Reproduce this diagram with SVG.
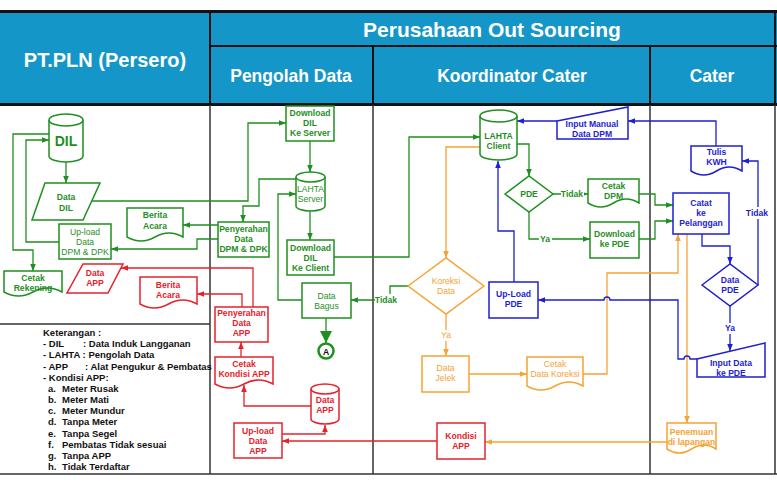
<svg xmlns="http://www.w3.org/2000/svg" width="777" height="486" viewBox="0 0 777 486">
<defs>
<style>
text{font-family:"Liberation Sans",Arial,sans-serif}
.t{font-size:8.6px;font-weight:bold;text-anchor:middle}
.n{font-weight:normal}
.h{fill:#fff;font-weight:bold;text-anchor:middle}
.lg{font-size:9.5px;font-weight:bold;fill:#111}
.gs{stroke:#1f8f1f;fill:#fff;stroke-width:1.5}
.bs{stroke:#1e1ed2;fill:#fff;stroke-width:1.5}
.os{stroke:#f5a332;fill:#fff;stroke-width:1.5}
.rs{stroke:#e5222b;fill:#fff;stroke-width:1.5}
.gt{fill:#1f8f1f}
.bt{fill:#1e1ed2}
.ot{fill:#f5a332}
.rt{fill:#e5222b}
.c{fill:none;stroke-width:1.3}
.cg{stroke:#1f8f1f;marker-end:url(#ag)}
.cb{stroke:#1e1ed2;marker-end:url(#ab)}
.co{stroke:#f5a332;marker-end:url(#ao)}
.cr{stroke:#e5222b;marker-end:url(#ar)}
.col{stroke:#333;stroke-width:1.5}
</style>
<marker id="ag" viewBox="0 0 10 10" refX="10" refY="5" markerWidth="7" markerHeight="7" markerUnits="userSpaceOnUse" orient="auto"><path d="M0,1 L10,5 L0,9 z" fill="#1f8f1f"/></marker>
<marker id="ab" viewBox="0 0 10 10" refX="10" refY="5" markerWidth="7" markerHeight="7" markerUnits="userSpaceOnUse" orient="auto"><path d="M0,1 L10,5 L0,9 z" fill="#1e1ed2"/></marker>
<marker id="ao" viewBox="0 0 10 10" refX="10" refY="5" markerWidth="7" markerHeight="7" markerUnits="userSpaceOnUse" orient="auto"><path d="M0,1 L10,5 L0,9 z" fill="#f5a332"/></marker>
<marker id="ar" viewBox="0 0 10 10" refX="10" refY="5" markerWidth="7" markerHeight="7" markerUnits="userSpaceOnUse" orient="auto"><path d="M0,1 L10,5 L0,9 z" fill="#e5222b"/></marker>
<marker id="agb" viewBox="0 0 10 10" refX="10" refY="5" markerWidth="12" markerHeight="12" markerUnits="userSpaceOnUse" orient="auto"><path d="M0,0 L10,5 L0,10 z" fill="#1f8f1f"/></marker>
</defs>
<rect width="777" height="486" fill="#fff"/>

<g id="header">
<rect x="0" y="12" width="777" height="93" fill="#1596c8"/>
<rect x="0" y="10" width="777" height="3" fill="#111"/>
<rect x="0" y="103" width="777" height="3" fill="#111"/>
<line x1="210" y1="12" x2="210" y2="105" stroke="#111" stroke-width="2"/>
<line x1="210" y1="46" x2="777" y2="46" stroke="#111" stroke-width="2"/>
<line x1="373" y1="46" x2="373" y2="105" stroke="#111" stroke-width="2"/>
<line x1="650" y1="46" x2="650" y2="105" stroke="#111" stroke-width="2"/>
<line x1="775" y1="12" x2="775" y2="105" stroke="#111" stroke-width="2"/>
<text class="h" x="105" y="67" font-size="20">PT.PLN (Persero)</text>
<text class="h" x="492" y="37" font-size="21">Perusahaan Out Sourcing</text>
<text class="h" x="291" y="82" font-size="17.5">Pengolah Data</text>
<text class="h" x="512" y="82" font-size="17.5">Koordinator Cater</text>
<text class="h" x="712" y="82" font-size="17.5">Cater</text>
</g>

<g id="lanes">
<line class="col" x1="210" y1="105" x2="210" y2="474"/>
<line class="col" x1="373" y1="105" x2="373" y2="474"/>
<line class="col" x1="650" y1="105" x2="650" y2="474"/>
<line class="col" x1="775" y1="105" x2="775" y2="474"/>
<line class="col" x1="0" y1="474" x2="777" y2="474"/>
<line class="col" x1="0" y1="324" x2="210" y2="324"/>
</g>

<g id="legend">
<text class="lg" x="43" y="336">Keterangan :</text>
<text class="lg" x="43" y="347.2">- DIL</text><text class="lg" x="83" y="347.2">: Data Induk Langganan</text>
<text class="lg" x="43" y="358.3">- LAHTA : Pengolah Data</text>
<text class="lg" x="43" y="369.5">- APP</text><text class="lg" x="85" y="369.5">: Alat Pengukur &amp; Pembatas</text>
<text class="lg" x="43" y="380.7">- Kondisi APP:</text>
<text class="lg" x="48" y="391.9">a.</text><text class="lg" x="62" y="391.9">Meter Rusak</text>
<text class="lg" x="48" y="403">b.</text><text class="lg" x="62" y="403">Meter Mati</text>
<text class="lg" x="48" y="414.2">c.</text><text class="lg" x="62" y="414.2">Meter Mundur</text>
<text class="lg" x="48" y="425.4">d.</text><text class="lg" x="62" y="425.4">Tanpa Meter</text>
<text class="lg" x="48" y="436.5">e.</text><text class="lg" x="62" y="436.5">Tanpa Segel</text>
<text class="lg" x="48" y="447.7">f.</text><text class="lg" x="62" y="447.7">Pembatas Tidak sesuai</text>
<text class="lg" x="48" y="458.9">g.</text><text class="lg" x="62" y="458.9">Tanpa APP</text>
<text class="lg" x="48" y="470">h.</text><text class="lg" x="62" y="470">Tidak Terdaftar</text>
</g>

<g id="connectors">
<path class="c cg" d="M66,162 V183"/>
<path class="c cg" d="M92,201 H248 V123 H286"/>
<path class="c cg" d="M49,134 H13 V250 H33 V271"/>
<path class="c cg" d="M59,242 H26 V140 H49"/>
<path class="c cg" d="M218,225 H183"/>
<path class="c cg" d="M218,239 H197 V249 H111"/>
<path class="c cg" d="M296,179 H259 V206 H243 V222"/>
<path class="c cg" d="M310,141 V172"/>
<path class="c cg" d="M310,211 V240"/>
<path class="c cg" d="M334,257 H409 V137 H480"/>
<path class="c cg" d="M302,300 H278 V194 H296"/>
<path class="c" d="M326,318 V343" stroke="#1f8f1f" stroke-width="3" marker-end="url(#agb)"/>
<path class="c cg" d="M408,286 H390 V300 H351"/>
<path class="c cg" d="M517,144 H529 V176"/>
<path class="c cg" d="M553,194 H588"/>
<path class="c cg" d="M529,212 V239 H590"/>
<path class="c cg" d="M639,194 H655 V205 H673"/>
<path class="c cg" d="M639,239 H655 V221 H673"/>

<path class="c cb" d="M716,146 V121 H628"/>
<path class="c cb" d="M557,121 H517"/>
<path class="c cb" d="M514,282 V231 H498 V161"/>
<path class="c cb" d="M702,234 V246 H730 V264"/>
<path class="c cb" d="M758,285 V161 H742"/>
<path class="c cb" d="M730,306 V351"/>

<path class="c co" d="M480,147 H446 V258"/>
<path class="c co" d="M446,314 V356"/>
<path class="c co" d="M469,374 H527"/>
<path class="c co" d="M583,374 H607 V273 H678 V234"/>
<path class="c co" d="M687,234 V423"/>
<path class="c co" d="M667,442 H485"/>

<path class="c cb" d="M697,359 H690 A3,3 0 0 0 684,359 H678 V300 H610 A3,3 0 0 0 604,300 H538"/>

<path class="c cr" d="M437,441 H282"/>
<path class="c cr" d="M282,434 H325 V425"/>
<path class="c cr" d="M311,406 H244 V385"/>
<path class="c cr" d="M241,357 V342"/>
<path class="c cr" d="M242,307 V294 H197"/>
<path class="c cr" d="M253,307 V268 H121"/>

<rect x="375" y="294" width="23" height="11" fill="#fff"/>
<text class="t gt" x="386" y="303">Tidak</text>
<rect x="561" y="189" width="23" height="11" fill="#fff"/>
<text class="t gt" x="572" y="197">Tidak</text>
<rect x="539" y="234" width="13" height="11" fill="#fff"/>
<text class="t gt" x="545" y="242">Ya</text>
<rect x="440" y="330" width="13" height="11" fill="#fff"/>
<text class="t ot n" x="446" y="338">Ya</text>
<rect x="746" y="207" width="23" height="12" fill="#fff"/>
<text class="t bt" x="757" y="216">Tidak</text>
<rect x="724" y="323" width="13" height="11" fill="#fff"/>
<text class="t bt" x="730" y="331">Ya</text>
</g>

<g id="dil">
<path class="gs" d="M49,120 V156 A17,6 0 0 0 83,156 V120 A17,6 0 0 0 49,120 Z"/>
<path class="gs" fill="none" d="M49,120 A17,6 0 0 0 83,120"/>
<text x="66" y="146" text-anchor="middle" font-size="14" font-weight="bold" class="gt">DIL</text>
</g>
<g id="data-dil">
<polygon class="gs" points="45,183 100,183 83,220 32,220"/>
<text class="t gt" x="66" y="200">Data</text><text class="t gt" x="66" y="211">DIL</text>
</g>
<g id="upload-dpm">
<rect class="gs" x="59" y="224" width="52" height="35"/>
<text class="t gt n" x="85" y="235">Up-load</text><text class="t gt n" x="85" y="245">Data</text><text class="t gt n" x="85" y="255">DPM &amp; DPK</text>
</g>
<g id="berita-acara-1">
<path class="gs" d="M127,208 H183 V237 Q169,229 155,237 T127,237 Z"/>
<text class="t gt" x="155" y="218">Berita</text><text class="t gt" x="155" y="229">Acara</text>
</g>
<g id="cetak-rekening">
<path class="gs" d="M4,271 H62 V292 Q47.5,284 33,292 T4,292 Z"/>
<text class="t gt" x="33" y="281">Cetak</text><text class="t gt" x="33" y="291">Rekening</text>
</g>
<g id="data-app-1">
<polygon class="rs" points="83,264 123,264 108,293 67,293"/>
<text class="t rt" x="95" y="276">Data</text><text class="t rt" x="95" y="286">APP</text>
</g>
<g id="berita-acara-2">
<path class="rs" d="M140,277 H197 V304 Q182.75,296 168.5,304 T140,304 Z"/>
<text class="t rt" x="168" y="288">Berita</text><text class="t rt" x="168" y="298">Acara</text>
</g>

<g id="download-server">
<rect class="gs" x="286" y="106" width="48" height="35"/>
<text class="t gt" x="310" y="116">Download</text><text class="t gt" x="310" y="126">DIL</text><text class="t gt" x="310" y="136">Ke Server</text>
</g>
<g id="lahta-server">
<path class="gs" d="M296,177 V206 A14.5,5 0 0 0 325,206 V177 A14.5,5 0 0 0 296,177 Z"/>
<path class="gs" fill="none" d="M296,177 A14.5,5 0 0 0 325,177"/>
<text class="t gt n" x="310.5" y="192">LAHTA</text><text class="t gt n" x="310.5" y="202">Server</text>
</g>
<g id="penyerahan-dpm">
<rect class="gs" x="218" y="222" width="51" height="35"/>
<text class="t gt" x="243.5" y="232">Penyerahan</text><text class="t gt" x="243.5" y="242">Data</text><text class="t gt" x="243.5" y="252">DPM &amp; DPK</text>
</g>
<g id="download-client">
<rect class="gs" x="287" y="240" width="47" height="35"/>
<text class="t gt" x="310.5" y="251">Download</text><text class="t gt" x="310.5" y="261">DIL</text><text class="t gt" x="310.5" y="271">Ke Client</text>
</g>
<g id="data-bagus">
<rect class="gs" x="302" y="283" width="49" height="35"/>
<text class="t gt n" x="326.5" y="299">Data</text><text class="t gt n" x="326.5" y="309">Bagus</text>
</g>
<g id="connector-a">
<circle cx="326" cy="351" r="7.5" fill="#fff" stroke="#1f8f1f" stroke-width="2.5"/>
<text class="t" x="326" y="354.5" fill="#111">A</text>
</g>
<g id="penyerahan-app">
<rect class="rs" x="215" y="307" width="53" height="35"/>
<text class="t rt" x="241.5" y="316">Penyerahan</text><text class="t rt" x="241.5" y="326">Data</text><text class="t rt" x="241.5" y="336">APP</text>
</g>
<g id="cetak-kondisi">
<path class="rs" d="M215,357 H273 V384 Q258.5,376 244,384 T215,384 Z"/>
<text class="t rt" x="244" y="367">Cetak</text><text class="t rt" x="244" y="377">Kondisi APP</text>
</g>
<g id="data-app-2">
<path class="rs" d="M311,389 V419 A14,5 0 0 0 339,419 V389 A14,5 0 0 0 311,389 Z"/>
<path class="rs" fill="none" d="M311,389 A14,5 0 0 0 339,389"/>
<text class="t rt" x="325" y="403">Data</text><text class="t rt" x="325" y="413">APP</text>
</g>
<g id="upload-app">
<rect class="rs" x="234" y="423" width="48" height="35"/>
<text class="t rt" x="258" y="434">Up-load</text><text class="t rt" x="258" y="444">Data</text><text class="t rt" x="258" y="454">APP</text>
</g>

<g id="lahta-client">
<path class="gs" d="M480,116 V154 A18.5,6 0 0 0 517,154 V116 A18.5,6 0 0 0 480,116 Z"/>
<path class="gs" fill="none" d="M480,116 A18.5,6 0 0 0 517,116"/>
<text class="t gt" x="498.5" y="139">LAHTA</text><text class="t gt" x="498.5" y="149">Client</text>
</g>
<g id="input-manual">
<polygon class="bs" points="557,121 628,107 628,139 557,139"/>
<text class="t bt" x="592" y="127">Input Manual</text><text class="t bt" x="592" y="137">Data DPM</text>
</g>
<g id="pde">
<polygon class="gs" points="505,194 529,176 553,194 529,212"/>
<text class="t gt" x="529" y="197">PDE</text>
</g>
<g id="cetak-dpm">
<path class="gs" d="M588,179 H639 V203 Q626.25,195 613.5,203 T588,203 Z"/>
<text class="t gt" x="613.5" y="189">Cetak</text><text class="t gt" x="613.5" y="199">DPM</text>
</g>
<g id="download-pde">
<rect class="gs" x="590" y="222" width="49" height="36"/>
<text class="t gt" x="614.5" y="237">Download</text><text class="t gt" x="614.5" y="247">ke PDE</text>
</g>
<g id="koreksi-data">
<polygon class="os" points="408,286 446,258 484,286 446,314"/>
<text class="t ot n" x="446" y="284">Koreksi</text><text class="t ot n" x="446" y="294">Data</text>
</g>
<g id="upload-pde">
<rect class="bs" x="489" y="282" width="49" height="36"/>
<text class="t bt" x="513.5" y="297">Up-Load</text><text class="t bt" x="513.5" y="307">PDE</text>
</g>
<g id="data-jelek">
<rect class="os" x="422" y="356" width="47" height="36"/>
<text class="t ot n" x="445.5" y="371">Data</text><text class="t ot n" x="445.5" y="381">Jelek</text>
</g>
<g id="cetak-koreksi">
<path class="os" d="M527,357 H583 V386 Q569,378 555,386 T527,386 Z"/>
<text class="t ot n" x="555" y="367">Cetak</text><text class="t ot n" x="555" y="377">Data Koreksi</text>
</g>
<g id="kondisi-app">
<rect class="rs" x="437" y="423" width="48" height="36"/>
<text class="t rt" x="461" y="439">Kondisi</text><text class="t rt" x="461" y="449">APP</text>
</g>

<g id="tulis-kwh">
<path class="bs" d="M691,146 H742 V171 Q729.25,163 716.5,171 T691,171 Z"/>
<text class="t bt" x="716.5" y="155">Tulis</text><text class="t bt" x="716.5" y="165">KWH</text>
</g>
<g id="catat-pelanggan">
<rect class="bs" x="673" y="193" width="56" height="41"/>
<text class="t bt" x="701" y="206">Catat</text><text class="t bt" x="701" y="216">ke</text><text class="t bt" x="701" y="226">Pelanggan</text>
</g>
<g id="data-pde">
<polygon class="bs" points="702,285 730,264 758,285 730,306"/>
<text class="t bt" x="730" y="283">Data</text><text class="t bt" x="730" y="293">PDE</text>
</g>
<g id="input-data-pde">
<polygon class="bs" points="697,359 765,343 765,377 697,377"/>
<text class="t bt" x="731" y="366">Input Data</text><text class="t bt" x="731" y="376">ke PDE</text>
</g>
<g id="penemuan">
<path class="os" d="M667,423 H716 V449 Q703.75,441 691.5,449 T667,449 Z"/>
<text class="t ot" x="691.5" y="435">Penemuan</text><text class="t ot" x="691.5" y="445">di lapangan</text>
</g>
</svg>
